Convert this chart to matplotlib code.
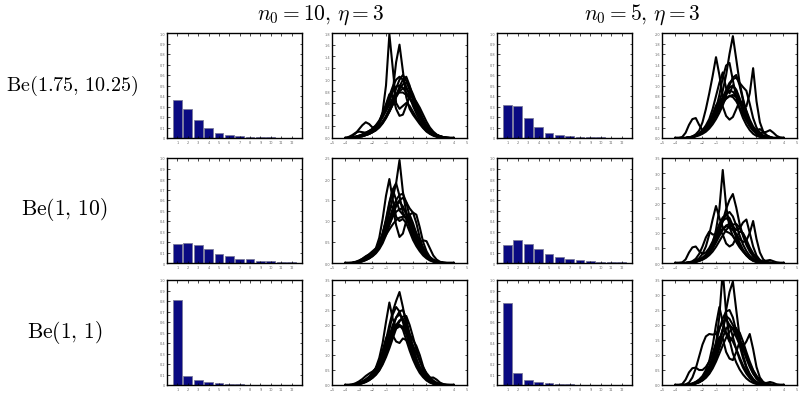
import matplotlib
matplotlib.use("Agg")
import matplotlib.pyplot as plt
import numpy as np

plt.rcParams['mathtext.fontset'] = 'cm'

# categorias de las barras
cats = list(range(1, 13))

# frecuencias (fila = prior, columna = n0)
bars_r1_n10 = [0.36, 0.28, 0.17, 0.095, 0.05, 0.03, 0.018, 0.011, 0.007, 0.005, 0.003, 0.002]
bars_r1_n5 = [0.31, 0.305, 0.19, 0.105, 0.05, 0.03, 0.018, 0.01, 0.007, 0.005, 0.003, 0.002]
bars_r2_n10 = [0.18, 0.195, 0.17, 0.13, 0.087, 0.064, 0.042, 0.035, 0.022, 0.016, 0.013, 0.009]
bars_r2_n5 = [0.175, 0.215, 0.18, 0.13, 0.085, 0.06, 0.042, 0.026, 0.017, 0.013, 0.01, 0.006]
bars_r3_n10 = [0.805, 0.088, 0.044, 0.025, 0.015, 0.012, 0.006, 0.004, 0.003, 0.002, 0.001, 0.001]
bars_r3_n5 = [0.785, 0.11, 0.047, 0.028, 0.016, 0.009, 0.005, 0.003, 0.002, 0.001, 0.001, 0.001]

# rejilla de las densidades
xgrid = [-4.0, -3.75, -3.5, -3.25, -3.0, -2.75, -2.5, -2.25, -2.0, -1.75, -1.5, -1.25, -1.0,
         -0.75, -0.5, -0.25, 0.0, 0.25, 0.5, 0.75, 1.0, 1.25, 1.5, 1.75, 2.0, 2.25, 2.5,
         2.75, 3.0, 3.25, 3.5, 3.75, 4.0]

dens_r1_n10 = [
    [0,0,0.01,0.02,0.03,0.05,0.08,0.1,0.13,0.17,0.25,0.45,0.9,1.78,1.2,0.6,0.5,0.55,0.6,0.55,0.45,0.35,0.26,0.18,0.12,0.08,0.05,0.03,0.02,0.01,0,0,0],
    [0,0,0.01,0.02,0.04,0.06,0.09,0.12,0.15,0.2,0.28,0.38,0.5,0.62,0.8,1.3,1.6,1.15,0.7,0.5,0.4,0.32,0.24,0.17,0.11,0.07,0.04,0.02,0.01,0.005,0,0,0],
    [0,0.01,0.03,0.08,0.15,0.22,0.27,0.24,0.18,0.2,0.28,0.4,0.55,0.72,0.88,1.0,1.05,1.0,0.88,0.72,0.55,0.42,0.3,0.2,0.13,0.08,0.05,0.03,0.01,0,0,0,0],
    [0,0,0.01,0.02,0.04,0.06,0.09,0.12,0.16,0.22,0.3,0.42,0.58,0.75,0.72,0.5,0.38,0.4,0.55,0.72,0.7,0.55,0.4,0.27,0.17,0.1,0.06,0.03,0.015,0.005,0,0,0],
    [0,0,0.005,0.01,0.02,0.03,0.05,0.07,0.1,0.14,0.2,0.28,0.38,0.5,0.65,0.85,1.0,1.08,0.98,0.82,0.65,0.5,0.38,0.27,0.18,0.12,0.08,0.05,0.03,0.015,0.007,0,0],
    [0,0,0,0.01,0.02,0.03,0.05,0.07,0.1,0.14,0.19,0.26,0.35,0.46,0.58,0.72,0.84,0.92,0.95,0.88,0.75,0.6,0.46,0.33,0.22,0.14,0.09,0.05,0.03,0.01,0.005,0,0],
    [0,0,0.01,0.02,0.03,0.05,0.07,0.1,0.14,0.19,0.26,0.36,0.5,0.66,0.8,0.88,0.9,0.86,0.78,0.68,0.58,0.48,0.38,0.28,0.2,0.13,0.08,0.05,0.03,0.015,0.005,0,0],
    [0,0,0,0.01,0.02,0.03,0.05,0.07,0.1,0.13,0.18,0.25,0.34,0.45,0.57,0.7,0.8,0.85,0.84,0.78,0.7,0.62,0.52,0.4,0.28,0.18,0.11,0.06,0.03,0.01,0,0,0],
    [0,0.02,0.05,0.09,0.11,0.1,0.09,0.1,0.12,0.16,0.21,0.28,0.36,0.46,0.58,0.72,0.88,1.0,1.05,0.9,0.68,0.5,0.36,0.25,0.16,0.1,0.06,0.03,0.015,0.005,0,0,0],
    [0,0,0.01,0.02,0.03,0.05,0.08,0.11,0.15,0.2,0.27,0.36,0.46,0.57,0.68,0.76,0.78,0.78,0.74,0.68,0.6,0.5,0.4,0.3,0.21,0.14,0.09,0.05,0.03,0.015,0.005,0,0],
]

dens_r2_n10 = [
    [0,0,0,0.01,0.03,0.06,0.1,0.14,0.2,0.28,0.4,0.58,0.85,1.2,1.55,1.9,2.45,1.7,1.2,0.85,0.62,0.45,0.32,0.22,0.14,0.08,0.04,0.02,0.01,0,0,0,0],
    [0,0,0,0.01,0.03,0.06,0.1,0.15,0.22,0.35,0.6,1.05,1.6,2.0,1.5,1.1,1.0,1.05,0.95,0.75,0.55,0.4,0.28,0.18,0.11,0.06,0.03,0.01,0,0,0,0,0],
    [0,0,0,0.02,0.05,0.1,0.16,0.2,0.22,0.3,0.45,0.7,1.05,1.45,1.75,1.9,1.6,1.2,1.05,1.15,1.2,0.95,0.6,0.35,0.2,0.11,0.05,0.02,0.01,0,0,0,0],
    [0,0,0,0.01,0.03,0.06,0.1,0.15,0.22,0.32,0.48,0.7,0.98,1.3,1.35,0.9,0.62,0.7,1.0,1.15,0.95,0.7,0.5,0.35,0.22,0.13,0.07,0.03,0.01,0,0,0,0],
    [0,0,0,0.01,0.02,0.05,0.08,0.12,0.18,0.26,0.38,0.55,0.78,1.05,1.3,1.5,1.62,1.65,1.45,1.1,0.78,0.55,0.38,0.25,0.15,0.08,0.04,0.02,0.01,0,0,0,0],
    [0,0,0,0.01,0.02,0.04,0.07,0.11,0.17,0.25,0.36,0.52,0.75,1.0,1.25,1.4,1.45,1.35,1.15,0.9,0.7,0.56,0.5,0.54,0.52,0.35,0.18,0.08,0.03,0.01,0,0,0],
    [0,0,0,0.01,0.03,0.06,0.1,0.15,0.21,0.29,0.4,0.55,0.73,0.92,1.1,1.22,1.28,1.3,1.2,1.0,0.8,0.6,0.43,0.3,0.19,0.11,0.06,0.03,0.01,0,0,0,0],
    [0,0,0,0.01,0.02,0.05,0.09,0.14,0.2,0.3,0.45,0.68,1.0,1.4,1.75,1.5,1.25,1.15,1.05,0.88,0.68,0.5,0.36,0.25,0.16,0.09,0.05,0.02,0.01,0,0,0,0],
    [0,0,0.01,0.03,0.06,0.1,0.15,0.21,0.28,0.35,0.44,0.55,0.67,0.8,0.92,1.02,1.08,1.1,1.1,1.02,0.88,0.7,0.52,0.36,0.23,0.14,0.08,0.04,0.02,0.01,0,0,0],
    [0,0,0,0.01,0.02,0.04,0.07,0.11,0.16,0.23,0.33,0.47,0.66,0.9,1.15,1.35,1.5,1.55,1.45,1.3,1.2,1.15,0.85,0.5,0.28,0.14,0.07,0.03,0.01,0,0,0,0],
]

dens_r3_n10 = [
    [0,0,0,0.02,0.05,0.1,0.16,0.24,0.35,0.5,0.72,1.05,1.5,2.0,2.45,2.8,3.1,2.6,2.0,1.5,1.1,0.78,0.52,0.33,0.2,0.11,0.05,0.02,0.01,0,0,0,0],
    [0,0,0,0.02,0.05,0.1,0.16,0.25,0.38,0.58,0.9,1.4,2.1,2.75,2.2,1.9,2.0,1.85,1.5,1.15,0.85,0.6,0.4,0.26,0.15,0.08,0.04,0.02,0.01,0,0,0,0],
    [0,0,0,0.02,0.05,0.1,0.17,0.26,0.38,0.55,0.8,1.15,1.55,1.8,1.65,1.45,1.4,1.55,1.5,1.3,1.05,0.8,0.58,0.4,0.26,0.16,0.09,0.05,0.02,0.01,0,0,0],
    [0,0,0,0.01,0.03,0.07,0.12,0.19,0.28,0.4,0.58,0.82,1.12,1.5,1.9,2.25,2.45,2.5,2.2,1.7,1.25,0.88,0.58,0.38,0.27,0.24,0.25,0.18,0.08,0.03,0.01,0,0],
    [0,0,0,0.02,0.05,0.09,0.15,0.23,0.33,0.47,0.67,0.93,1.25,1.62,2.0,2.25,2.35,2.2,1.88,1.5,1.12,0.8,0.55,0.35,0.21,0.12,0.06,0.03,0.01,0,0,0,0],
    [0,0,0,0.01,0.03,0.06,0.1,0.16,0.24,0.35,0.5,0.72,1.0,1.35,1.72,2.0,2.15,2.2,2.0,1.7,1.5,1.3,1.0,0.62,0.35,0.18,0.08,0.03,0.01,0,0,0,0],
    [0,0,0.01,0.03,0.07,0.12,0.19,0.28,0.4,0.56,0.76,1.0,1.3,1.6,1.85,1.98,2.0,1.92,1.72,1.45,1.15,0.86,0.6,0.4,0.25,0.14,0.07,0.03,0.01,0,0,0,0],
    [0,0,0,0.01,0.03,0.07,0.12,0.2,0.3,0.45,0.66,0.95,1.35,1.85,2.35,2.6,2.45,2.1,1.7,1.3,0.95,0.68,0.46,0.3,0.18,0.1,0.05,0.02,0.01,0,0,0,0],
    [0,0,0.02,0.06,0.12,0.2,0.3,0.38,0.45,0.55,0.72,0.95,1.22,1.5,1.72,1.88,1.95,1.95,1.82,1.6,1.32,1.05,0.8,0.58,0.4,0.26,0.15,0.08,0.04,0.01,0,0,0],
    [0,0,0,0.01,0.03,0.06,0.1,0.16,0.24,0.34,0.48,0.68,0.93,1.22,1.55,1.88,2.12,2.28,2.3,2.0,1.6,1.18,0.8,0.5,0.3,0.16,0.08,0.03,0.01,0,0,0,0],
]

dens_r1_n5 = [
    [0,0,0,0,0.01,0.02,0.04,0.07,0.12,0.2,0.3,0.42,0.55,0.7,0.9,1.2,1.6,1.94,1.5,1.05,0.75,0.5,0.3,0.17,0.09,0.04,0.02,0.01,0,0,0,0,0],
    [0,0,0,0,0.01,0.03,0.07,0.14,0.3,0.55,0.85,1.18,1.54,1.2,0.8,0.75,0.8,0.78,0.7,0.58,0.45,0.33,0.23,0.15,0.09,0.05,0.02,0.01,0,0,0,0,0],
    [0,0,0,0,0.01,0.02,0.05,0.09,0.15,0.24,0.36,0.55,0.8,1.05,1.25,0.95,0.85,1.0,0.9,0.7,0.5,0.34,0.22,0.14,0.08,0.04,0.02,0.01,0,0,0,0,0],
    [0,0,0.02,0.1,0.25,0.36,0.38,0.25,0.15,0.15,0.22,0.35,0.55,0.82,1.15,1.38,1.43,1.1,0.78,0.55,0.38,0.25,0.15,0.08,0.04,0.02,0.01,0,0,0,0,0,0],
    [0,0,0,0,0.01,0.02,0.04,0.07,0.11,0.16,0.23,0.32,0.43,0.55,0.66,0.75,0.8,0.82,0.78,0.7,0.62,0.6,0.85,1.33,0.7,0.3,0.12,0.05,0.02,0,0,0,0],
    [0,0,0,0,0.01,0.02,0.04,0.08,0.13,0.2,0.3,0.45,0.62,0.72,0.6,0.42,0.35,0.4,0.55,0.7,0.68,0.52,0.35,0.22,0.14,0.1,0.1,0.12,0.15,0.1,0.04,0.01,0],
    [0,0,0,0,0.01,0.02,0.04,0.07,0.11,0.16,0.24,0.34,0.46,0.6,0.76,0.92,1.05,1.12,1.15,1.05,0.97,0.9,0.65,0.38,0.2,0.1,0.05,0.02,0.01,0,0,0,0],
    [0,0,0,0,0.01,0.02,0.04,0.06,0.1,0.15,0.22,0.31,0.42,0.55,0.7,0.85,0.96,1.0,0.92,0.76,0.58,0.42,0.28,0.18,0.14,0.17,0.12,0.05,0.02,0,0,0,0],
    [0,0,0,0,0.01,0.03,0.05,0.08,0.12,0.18,0.27,0.38,0.52,0.66,0.78,0.86,0.9,0.88,0.8,0.68,0.54,0.4,0.28,0.18,0.11,0.06,0.03,0.01,0,0,0,0,0],
    [0,0,0,0,0,0.01,0.03,0.05,0.08,0.12,0.18,0.26,0.36,0.48,0.62,0.8,1.0,1.15,1.2,1.0,0.72,0.48,0.3,0.17,0.09,0.04,0.02,0.01,0,0,0,0,0],
]

dens_r2_n5 = [
    [0,0,0,0,0.01,0.03,0.06,0.1,0.16,0.25,0.4,0.65,1.1,1.8,3.1,1.9,1.2,0.9,0.7,0.52,0.38,0.26,0.16,0.09,0.05,0.02,0.01,0,0,0,0,0,0],
    [0,0,0,0,0.01,0.02,0.04,0.07,0.12,0.2,0.32,0.5,0.75,1.05,1.4,1.8,2.1,2.3,1.85,1.3,0.9,0.6,0.38,0.22,0.12,0.06,0.03,0.01,0,0,0,0,0],
    [0,0,0,0,0.01,0.03,0.08,0.16,0.3,0.55,0.95,1.45,1.9,1.5,1.2,1.05,1.0,0.9,0.75,0.58,0.42,0.28,0.17,0.1,0.05,0.02,0.01,0,0,0,0,0,0],
    [0,0,0,0,0.01,0.02,0.05,0.09,0.15,0.24,0.37,0.55,0.78,1.0,1.15,1.22,1.2,1.1,0.95,0.8,0.7,0.75,1.0,1.4,0.8,0.35,0.12,0.04,0.01,0,0,0,0],
    [0,0,0.02,0.12,0.35,0.52,0.55,0.4,0.3,0.35,0.5,0.72,1.0,1.3,1.52,1.6,1.5,1.25,0.95,0.68,0.45,0.28,0.16,0.08,0.04,0.02,0.01,0,0,0,0,0,0],
    [0,0,0,0,0.01,0.03,0.06,0.11,0.18,0.28,0.43,0.65,0.92,1.1,0.95,0.65,0.55,0.62,0.85,1.05,1.0,0.78,0.52,0.32,0.18,0.09,0.04,0.02,0.01,0,0,0,0],
    [0,0,0,0,0.01,0.02,0.04,0.08,0.13,0.21,0.32,0.48,0.68,0.9,1.1,1.25,1.3,1.22,1.1,1.15,1.35,1.45,1.0,0.55,0.25,0.1,0.04,0.01,0,0,0,0,0],
    [0,0,0,0,0.01,0.02,0.05,0.09,0.15,0.24,0.37,0.56,0.82,1.12,1.42,1.62,1.7,1.55,1.25,0.92,0.62,0.4,0.24,0.14,0.08,0.05,0.05,0.08,0.1,0.06,0.02,0,0],
    [0,0,0,0,0.02,0.06,0.14,0.3,0.55,0.85,1.05,0.95,0.95,1.15,1.4,1.5,1.4,1.15,0.85,0.6,0.4,0.25,0.14,0.07,0.03,0.01,0,0,0,0,0,0,0],
    [0,0,0,0,0.01,0.02,0.04,0.07,0.11,0.17,0.26,0.38,0.54,0.73,0.92,1.1,1.22,1.28,1.3,1.18,0.95,0.7,0.46,0.28,0.15,0.07,0.03,0.01,0,0,0,0,0],
]

dens_r3_n5 = [
    [0,0,0,0,0.01,0.03,0.07,0.13,0.22,0.35,0.55,0.85,1.35,2.3,3.8,2.4,1.5,1.05,0.75,0.52,0.35,0.22,0.13,0.07,0.03,0.01,0,0,0,0,0,0,0],
    [0,0,0,0,0.01,0.03,0.06,0.1,0.17,0.27,0.42,0.65,0.95,1.35,1.85,2.5,3.1,3.45,2.5,1.6,1.0,0.62,0.37,0.2,0.1,0.05,0.02,0,0,0,0,0,0],
    [0,0,0,0,0.02,0.05,0.1,0.18,0.3,0.5,0.8,1.3,2.0,2.6,2.1,1.75,1.6,1.45,1.2,0.92,0.66,0.45,0.28,0.16,0.08,0.04,0.02,0,0,0,0,0,0],
    [0,0,0,0.02,0.08,0.25,0.55,0.95,1.35,1.62,1.7,1.68,1.7,1.9,2.1,2.2,2.0,1.6,1.2,0.85,0.58,0.38,0.23,0.13,0.07,0.03,0.01,0,0,0,0,0,0],
    [0,0,0,0,0.01,0.02,0.05,0.09,0.16,0.26,0.4,0.6,0.88,1.22,1.58,1.88,2.0,1.88,1.6,1.35,1.28,1.45,1.7,1.2,0.6,0.25,0.1,0.03,0.01,0,0,0,0],
    [0,0,0,0,0.02,0.05,0.1,0.17,0.27,0.42,0.63,0.92,1.28,1.6,1.55,1.1,0.88,0.83,1.1,1.45,1.35,1.0,0.66,0.4,0.22,0.11,0.05,0.02,0.01,0,0,0,0],
    [0,0,0.03,0.18,0.42,0.56,0.58,0.5,0.5,0.6,0.78,1.05,1.42,1.85,2.22,2.45,2.5,2.25,1.8,1.32,0.9,0.58,0.35,0.2,0.1,0.05,0.02,0,0,0,0,0,0],
    [0,0,0,0,0.01,0.02,0.05,0.09,0.15,0.24,0.37,0.55,0.78,1.05,1.32,1.58,1.78,1.88,1.9,1.55,1.2,0.88,0.6,0.38,0.22,0.12,0.07,0.07,0.1,0.07,0.02,0,0],
    [0,0,0,0,0.01,0.03,0.07,0.13,0.22,0.35,0.53,0.78,1.12,1.52,1.85,1.7,1.44,1.6,1.85,1.75,1.45,1.1,0.78,0.5,0.3,0.16,0.08,0.03,0.01,0,0,0,0],
    [0,0,0,0,0.01,0.03,0.06,0.11,0.19,0.3,0.46,0.68,0.98,1.38,1.85,2.3,2.2,2.0,1.75,1.5,1.22,0.95,0.7,0.48,0.3,0.17,0.08,0.03,0.01,0,0,0,0],
]

row_labels = [r'$\mathrm{Be}(1.75,\, 10.25)$', r'$\mathrm{Be}(1,\, 10)$', r'$\mathrm{Be}(1,\, 1)$']
col_titles = [r'$n_0 = 10, \, \eta = 3$', r'$n_0 = 5, \, \eta = 3$']

bar_rows = [[bars_r1_n10, bars_r1_n5], [bars_r2_n10, bars_r2_n5], [bars_r3_n10, bars_r3_n5]]
dens_rows = [[dens_r1_n10, dens_r1_n5], [dens_r2_n10, dens_r2_n5], [dens_r3_n10, dens_r3_n5]]
dens_ymax = [[1.8, 2.0], [2.5, 3.5], [3.5, 3.5]]
dens_ystep = [[0.2, 0.2], [0.5, 0.5], [0.5, 0.5]]

W, H = 804, 402
fig = plt.figure(figsize=(W / 100, H / 100), dpi=100)

col_left = [167, 332, 497, 662]
row_top = [34, 159, 281]
aw, ah = 135, 105


def estilo(ax):
    ax.tick_params(direction='in', length=1.8, width=0.5, top=True, right=True,
                   labelsize=2.5, labelcolor='#666666', pad=1.5)
    for s in ax.spines.values():
        s.set_linewidth(1.0)


for r in range(3):
    for j in range(2):
        # barras
        l = col_left[2 * j]
        ax = fig.add_axes([l / W, 1 - (row_top[r] + ah) / H, aw / W, ah / H])
        ax.bar(cats, bar_rows[r][j], width=0.85, color='#0a0a82', edgecolor='#7a7a9a', linewidth=0.6)
        ax.set_xlim(0, 13)
        ax.set_ylim(0, 1)
        ax.set_xticks(cats)
        ax.set_yticks(np.arange(0, 1.01, 0.1))
        ax.set_yticklabels(['0'] + ['%.1f' % v for v in np.arange(0.1, 1.01, 0.1)])
        estilo(ax)

        # densidades
        l = col_left[2 * j + 1]
        ax = fig.add_axes([l / W, 1 - (row_top[r] + ah) / H, aw / W, ah / H])
        for curva in dens_rows[r][j]:
            ax.plot(xgrid, curva, color='black', lw=1.5)
        ax.set_xlim(-5, 5)
        ax.set_ylim(0, dens_ymax[r][j])
        ax.set_xticks(range(-5, 6))
        ax.set_yticks(np.arange(0, dens_ymax[r][j] + 1e-6, dens_ystep[r][j]))
        estilo(ax)

# etiquetas de filas
fig.text(139 / W, 1 - 86 / H, row_labels[0], ha='right', va='center', fontsize=14.5)
fig.text(64 / W, 1 - 210 / H, row_labels[1], ha='center', va='center', fontsize=15.5)
fig.text(65 / W, 1 - 333 / H, row_labels[2], ha='center', va='center', fontsize=15.5)

title_x = [321, 642]
for j in range(2):
    fig.text(title_x[j] / W, 1 - 15 / H, col_titles[j], ha='center', va='center', fontsize=15.5)

fig.savefig('out.png', dpi=100)
